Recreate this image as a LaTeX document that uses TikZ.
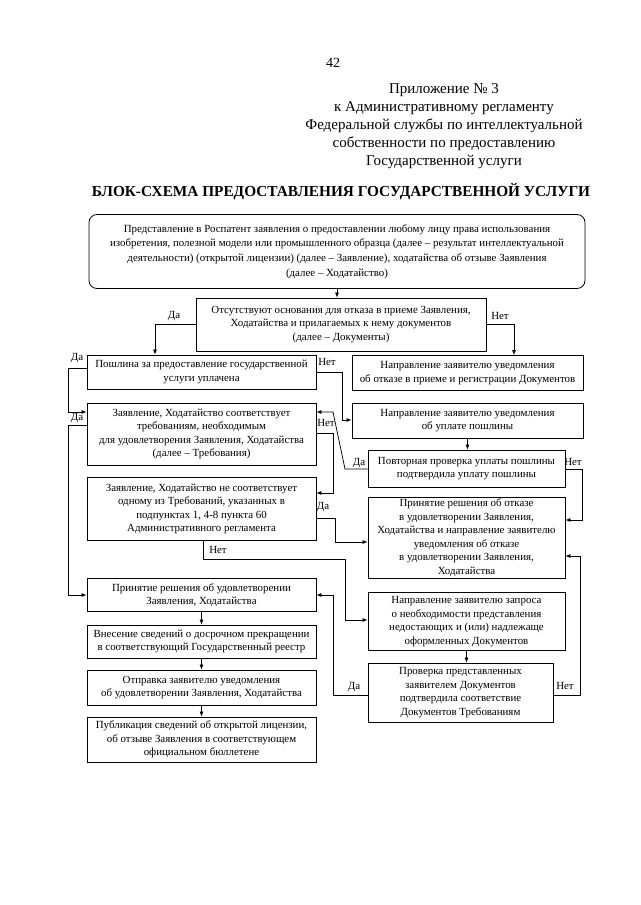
\documentclass[tikz,border=0pt]{standalone}
\usepackage{fontspec}
\setmainfont{Liberation Serif}
\usetikzlibrary{arrows.meta}
\begin{document}
\begin{tikzpicture}[x=1pt,y=-1pt,
  box/.style={draw, line width=0.8pt, inner sep=0pt, align=center, font=\fontsize{10.9}{13.5}\selectfont},
  arr/.style={line width=0.75pt, -{Latex[length=5pt,width=4pt]}},
  lbl/.style={inner sep=0pt, font=\fontsize{10.9}{12}\selectfont}]
\useasboundingbox (0,0) rectangle (640,905);
\fill[white] (0,0) rectangle (640,905);

% header
\node[font=\fontsize{14}{16}\selectfont] (pg) at (333,63) {42};
\node[align=center, font=\fontsize{15}{18}\selectfont] (hdr) at (444,126) {Приложение № 3\\к Административному регламенту\\Федеральной службы по интеллектуальной\\собственности по предоставлению\\Государственной услуги};
\node[font=\bfseries\fontsize{15.3}{18}\selectfont] (title) at (341,192) {БЛОК-СХЕМА ПРЕДОСТАВЛЕНИЯ ГОСУДАРСТВЕННОЙ УСЛУГИ};

% boxes
\node[box, rounded corners=8pt, minimum width=496pt, minimum height=74pt, font=\fontsize{10.9}{14.8}\selectfont] (T) at (337,251.5) {Представление в Роспатент заявления о предоставлении любому лицу права использования\\изобретения, полезной модели или промышленного образца (далее – результат интеллектуальной\\деятельности) (открытой лицензии) (далее – Заявление), ходатайства об отзыве Заявления\\(далее – Ходатайство)};
\node[box, minimum width=290pt, minimum height=53pt] (B2) at (341,324.5) {Отсутствуют основания для отказа в приеме Заявления,\\Ходатайства и прилагаемых к нему документов\\(далее – Документы)};
\node[box, minimum width=229pt, minimum height=34pt] (B3) at (201.5,372) {Пошлина за предоставление государственной\\услуги уплачена};
\node[box, minimum width=231pt, minimum height=35pt] (B4) at (467.5,373) {Направление заявителю уведомления\\об отказе в приеме и регистрации Документов};
\node[box, minimum width=229pt, minimum height=62pt] (B5) at (201.5,434) {Заявление, Ходатайство соответствует\\требованиям, необходимым\\для удовлетворения Заявления, Ходатайства\\(далее – Требования)};
\node[box, minimum width=231pt, minimum height=35pt] (B6) at (467.5,420.5) {Направление заявителю уведомления\\об уплате пошлины};
\node[box, minimum width=197pt, minimum height=37pt] (B7) at (466.5,468.5) {Повторная проверка уплаты пошлины\\подтвердила уплату пошлины};
\node[box, minimum width=229pt, minimum height=63pt] (B8) at (201.5,509) {Заявление, Ходатайство не соответствует\\одному из Требований, указанных в\\подпунктах 1, 4-8 пункта 60\\Административного регламента};
\node[box, minimum width=197pt, minimum height=81pt] (B9) at (466.5,537.5) {Принятие решения об отказе\\в удовлетворении Заявления,\\Ходатайства и направление заявителю\\уведомления об отказе\\в удовлетворении Заявления,\\Ходатайства};
\node[box, minimum width=229pt, minimum height=33pt] (B10) at (201.5,595) {Принятие решения об удовлетворении\\Заявления, Ходатайства};
\node[box, minimum width=197pt, minimum height=58pt] (B11) at (466.5,621.5) {Направление заявителю запроса\\о необходимости представления\\недостающих и (или) надлежаще\\оформленных Документов};
\node[box, minimum width=229pt, minimum height=33pt] (B12) at (201.5,641.5) {Внесение сведений о досрочном прекращении\\в соответствующий Государственный реестр};
\node[box, minimum width=229pt, minimum height=35pt] (B13) at (201.5,687.5) {Отправка заявителю уведомления\\об удовлетворении Заявления, Ходатайства};
\node[box, minimum width=185pt, minimum height=59pt] (B14) at (460.5,692.5) {Проверка представленных\\заявителем Документов\\подтвердила соответствие\\Документов Требованиям};
\node[box, minimum width=229pt, minimum height=45pt] (B15) at (201.5,739.5) {Публикация сведений об открытой лицензии,\\об отзыве Заявления в соответствующем\\официальном бюллетене};

% helper coordinates
\coordinate (yB2) at (0,324);
\coordinate (xDa1) at (155,0);
\coordinate (xNet1) at (514,0);
\coordinate (yB3) at (0,368);
\coordinate (yB3n) at (0,372);
\coordinate (xL) at (68,0);
\coordinate (yB5in) at (0,412);
\coordinate (xM1) at (342,0);
\coordinate (yB6in) at (0,420);
\coordinate (yB5) at (0,425);
\coordinate (yB5n) at (0,433);
\coordinate (xM2) at (333,0);
\coordinate (yB8in) at (0,493);
\coordinate (yB7) at (0,469);
\coordinate (pS1) at (345,469);
\coordinate (pS2) at (333,412);
\coordinate (xR1) at (582,0);
\coordinate (yB9a) at (0,520);
\coordinate (yB8) at (0,518);
\coordinate (xM3) at (335,0);
\coordinate (yB9in) at (0,542);
\coordinate (xN) at (203,0);
\coordinate (xM4) at (345,0);
\coordinate (yN) at (0,559);
\coordinate (yB11in) at (0,620);
\coordinate (yB14) at (0,695);
\coordinate (xR2) at (580,0);
\coordinate (yB9b) at (0,556);

% connectors
\draw[arr] (T.south) -- (T.south |- B2.north);
\draw[arr] (B2.west |- yB2) -| (xDa1 |- B3.north);
\draw[arr] (B2.east |- yB2) -| (xNet1 |- B4.north);
\draw[arr] (B3.west |- yB3) -| (xL |- yB5in) -- (B5.west |- yB5in);
\draw[arr] (B3.east |- yB3n) -| (xM1 |- yB6in) -- (B6.west |- yB6in);
\draw[arr] (B5.west |- yB5) -| (xL |- B10.west) -- (B10.west);
\draw[arr] (B5.east |- yB5n) -| (xM2 |- yB8in) -- (B8.east |- yB8in);
\draw[arr] (B6.south) -- (B6.south |- B7.north);
\draw[arr] (B7.west |- yB7) -- (pS1) -- (pS2) -- (B5.east |- pS2);
\draw[arr] (B7.east |- yB7) -| (xR1 |- yB9a) -- (B9.east |- yB9a);
\draw[arr] (B8.east |- yB8) -| (xM3 |- yB9in) -- (B9.west |- yB9in);
\draw[arr] (xN |- B8.south) |- (xM4 |- yN) |- (B11.west |- yB11in);
\draw[arr] (B10.south) -- (B10.south |- B12.north);
\draw[arr] (B12.south) -- (B12.south |- B13.north);
\draw[arr] (B13.south) -- (B13.south |- B15.north);
\draw[arr] (B11.south) -- (B11.south |- B14.north);
\draw[arr] (B14.west |- yB14) -| (xM2 |- B10.east) -- (B10.east);
\draw[arr] (B14.east |- yB14) -| (xR2 |- yB9b) -- (B9.east |- yB9b);

% labels
\node[lbl] (l1) at (174,316) {Да};
\node[lbl] (l2) at (500,316) {Нет};
\node[lbl] (l3) at (77,358) {Да};
\node[lbl] (l4) at (327,362) {Нет};
\node[lbl] (l5) at (77,418) {Да};
\node[lbl] (l6) at (326,423) {Нет};
\node[lbl] (l7) at (359,463) {Да};
\node[lbl] (l8) at (573,462) {Нет};
\node[lbl] (l9) at (323,507) {Да};
\node[lbl] (l10) at (218,550) {Нет};
\node[lbl] (l11) at (354,687) {Да};
\node[lbl] (l12) at (565,686) {Нет};
\end{tikzpicture}
\end{document}
